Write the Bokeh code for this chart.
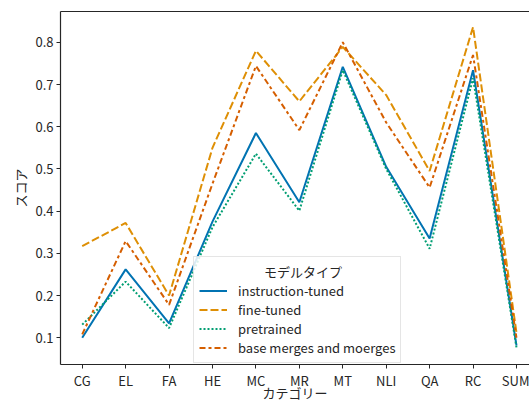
from bokeh.plotting import figure
from bokeh.models import Range1d, FixedTicker, LinearAxis, Legend, LegendItem
from bokeh.embed import file_html
from bokeh.resources import INLINE

categories = ["CG", "EL", "FA", "HE", "MC", "MR", "MT", "NLI", "QA", "RC", "SUM"]
instruction_tuned = [0.100, 0.262, 0.134, 0.375, 0.585, 0.421, 0.742, 0.505, 0.335, 0.734, 0.082]
fine_tuned = [0.317, 0.372, 0.200, 0.550, 0.780, 0.660, 0.789, 0.675, 0.495, 0.836, 0.112]
pretrained = [0.131, 0.233, 0.123, 0.362, 0.536, 0.401, 0.734, 0.500, 0.311, 0.715, 0.077]
base_merges = [0.108, 0.329, 0.178, 0.465, 0.744, 0.592, 0.800, 0.610, 0.456, 0.770, 0.100]
y_ticks = [0.1, 0.2, 0.3, 0.4, 0.5, 0.6, 0.7, 0.8]

FONT = "Noto Sans CJK JP"
TITLE_FONT = "Liberation Sans, Noto Sans CJK JP"
TXT = "#262626"
x = list(range(len(categories)))

p = figure(width=529, height=403, output_backend="svg", toolbar_location=None,
           x_range=Range1d(-0.5, 10.30), y_range=Range1d(0.0366, 0.873),
           x_axis_location=None, y_axis_location=None,
           min_border_left=60, min_border_top=11, min_border_bottom=36, min_border_right=0)
p.outline_line_color = None
p.background_fill_color = "white"

# top spine
top = LinearAxis(ticker=FixedTicker(ticks=[]), major_tick_out=0, major_tick_in=0,
                 minor_tick_out=0, minor_tick_in=0, major_label_standoff=0,
                 axis_line_color=TXT, axis_line_width=1.2)
p.add_layout(top, "above")

xa = LinearAxis(ticker=FixedTicker(ticks=x),
                major_label_overrides={i: c for i, c in zip(x, categories)},
                axis_label="カテゴリー")
ya = LinearAxis(ticker=FixedTicker(ticks=y_ticks), axis_label="スコア")
for ax in (xa, ya):
    ax.major_tick_out = 4
    ax.major_tick_in = 0
    ax.minor_tick_out = 0
    ax.minor_tick_in = 0
    ax.major_label_standoff = 3
    ax.axis_label_standoff = 2
    ax.major_label_text_font = FONT
    ax.major_label_text_font_size = "13px"
    ax.major_label_text_color = TXT
    ax.axis_label_text_font = FONT
    ax.axis_label_text_font_size = "13px"
    ax.axis_label_text_font_style = "normal"
    ax.axis_label_text_color = TXT
    ax.axis_line_color = TXT
    ax.axis_line_width = 1.2
    ax.major_tick_line_color = TXT
xa.major_label_standoff = 2
xa.axis_label_text_font = TITLE_FONT
xa.axis_label_standoff = -7
p.add_layout(xa, "below")
p.add_layout(ya, "left")
p.grid.visible = False

series = [
    ("instruction-tuned", instruction_tuned, "#0173b2", "solid"),
    ("fine-tuned", fine_tuned, "#de8f05", "8 3"),
    ("pretrained", pretrained, "#029e73", "2 2"),
    ("base merges and moerges", base_merges, "#d55e00", "6 3 3 3"),
]
items = []
for name, ys, col, dash in series:
    r = p.line(x, ys, line_color=col, line_width=2, line_dash=dash)
    items.append(LegendItem(label=name, renderers=[r]))

legend = Legend(items=items, location=(133, 1), title="\u3000" * 5 + "モデルタイプ",
                title_text_font=FONT, title_text_font_size="13px",
                title_text_font_style="normal", title_text_color=TXT,
                label_text_font=FONT, label_text_font_size="13px", label_text_color=TXT,
                glyph_width=28, glyph_height=15, label_height=15, spacing=0,
                label_standoff=11, padding=5, margin=0, title_standoff=0,
                border_line_color="#cccccc", border_line_width=1,
                background_fill_alpha=0.85)
p.add_layout(legend, "center")

open("out.html", "w").write(file_html(p, INLINE))
